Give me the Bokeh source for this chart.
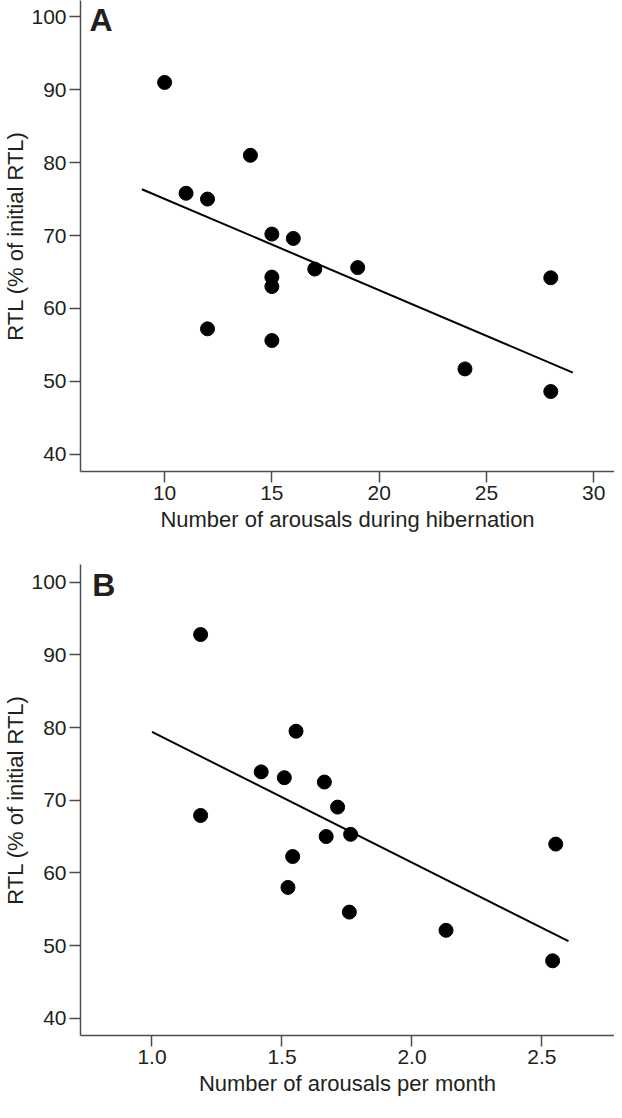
from bokeh.plotting import figure
from bokeh.layouts import column
from bokeh.models import FixedTicker, PrintfTickFormatter, Label, Range1d
from bokeh.embed import file_html
from bokeh.resources import INLINE

# ---- Panel A data: number of arousals during hibernation vs RTL ----
a_arousals = [10, 11, 12, 14, 15, 16, 15, 15, 17, 19, 12, 15, 24, 28, 28]
a_rtl = [91.0, 75.8, 75.0, 81.0, 70.2, 69.6, 64.3, 63.0, 65.4, 65.6, 57.2, 55.6, 51.7, 64.2, 48.6]
a_fit_x = [8.94, 29.03]
a_fit_y = [76.35, 51.2]
a_xticks = [10, 15, 20, 25, 30]

# ---- Panel B data: number of arousals per month vs RTL ----
b_rate = [1.187, 1.187, 1.42, 1.509, 1.554, 1.663, 1.714, 1.67, 1.764, 1.541, 1.523, 1.759, 2.131, 2.553, 2.541]
b_rtl = [92.8, 67.9, 73.9, 73.1, 79.5, 72.5, 69.05, 65.0, 65.3, 62.25, 58.0, 54.6, 52.1, 63.96, 47.9]
b_fit_x = [1.0, 2.602]
b_fit_y = [79.4, 50.6]
b_xticks = [1.0, 1.5, 2.0, 2.5]

y_ticks = [40, 50, 60, 70, 80, 90, 100]
y_label = "RTL (% of initial RTL)"
a_xlabel = "Number of arousals during hibernation"
b_xlabel = "Number of arousals per month"

FONT = "Liberation Sans"
TEXT = "#231f20"
AXIS = "#4d4d4d"


def style(p, xticks):
    p.xaxis.ticker = FixedTicker(ticks=xticks)
    p.yaxis.ticker = FixedTicker(ticks=y_ticks)
    for ax in (p.xaxis[0], p.yaxis[0]):
        ax.axis_line_color = AXIS
        ax.axis_line_width = 1.5
        ax.major_tick_line_color = AXIS
        ax.major_tick_line_width = 1.5
        ax.major_tick_out = 11
        ax.major_tick_in = 0
        ax.minor_tick_line_color = None
        ax.major_label_text_font = FONT
        ax.major_label_text_font_size = "21px"
        ax.major_label_text_color = TEXT
        ax.major_label_standoff = 3
        ax.axis_label_text_font = FONT
        ax.axis_label_text_font_size = "22px"
        ax.axis_label_text_font_style = "normal"
        ax.axis_label_text_color = TEXT
    p.xaxis.axis_label_standoff = 4
    p.yaxis.axis_label_standoff = 0
    p.xgrid.grid_line_color = None
    p.ygrid.grid_line_color = None
    p.outline_line_color = None
    p.background_fill_color = "white"
    p.border_fill_color = "white"


pA = figure(width=614, height=552, output_backend="svg", toolbar_location=None,
            x_range=Range1d(6.08, 30.97), y_range=Range1d(37.63, 102.24),
            min_border_left=74, min_border_right=0, min_border_top=0, min_border_bottom=81,
            x_axis_label=a_xlabel, y_axis_label=y_label)
style(pA, a_xticks)
pA.line(a_fit_x, a_fit_y, line_color="black", line_width=2)
pA.scatter(a_arousals, a_rtl, size=14, fill_color="black", line_color="black")
pA.add_layout(Label(x=6.5, y=99.5, text="A", text_font=FONT, text_font_size="32px",
                    text_font_style="bold", text_color=TEXT,
                    text_baseline="alphabetic", text_align="left"))

pB = figure(width=614, height=550, output_backend="svg", toolbar_location=None,
            x_range=Range1d(0.725, 2.779), y_range=Range1d(37.62, 102.44),
            min_border_left=74, min_border_right=0, min_border_top=12, min_border_bottom=67,
            x_axis_label=b_xlabel, y_axis_label=y_label)
style(pB, b_xticks)
pB.xaxis.formatter = PrintfTickFormatter(format="%.1f")
pB.line(b_fit_x, b_fit_y, line_color="black", line_width=2)
pB.scatter(b_rate, b_rtl, size=14, fill_color="black", line_color="black")
pB.add_layout(Label(x=0.77, y=99.6, text="B", text_font=FONT, text_font_size="32px",
                    text_font_style="bold", text_color=TEXT,
                    text_baseline="alphabetic", text_align="left"))

layout = column(pA, pB)
open("out.html", "w").write(file_html(layout, INLINE))
